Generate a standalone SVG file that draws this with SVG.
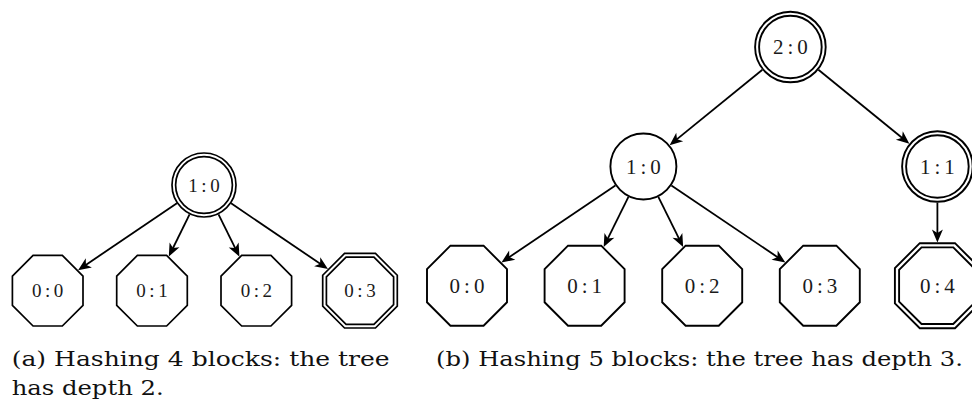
<svg xmlns="http://www.w3.org/2000/svg" xmlns:xlink="http://www.w3.org/1999/xlink" width="972" height="412" viewBox="0 0 972 412">
<style>
.sh{fill:#fff;stroke:#000;stroke-width:1.7}
.shb{fill:#fff;stroke:#000;stroke-width:1.9}
.edge{stroke:#000;stroke-width:1.8;fill:none;marker-end:url(#arr)}
.lbl{font-family:"Liberation Serif","Times New Roman",serif;fill:#1a1a1a;text-anchor:middle}
.la{font-size:19px}
.lb{font-size:21px}
.cap{font-family:"DejaVu Serif","Liberation Serif",serif;font-size:19.5px;fill:#111}
</style>
<defs>
<marker id="arr" viewBox="-16 -7 18 14" markerWidth="18" markerHeight="14" refX="-4" refY="0" orient="auto" markerUnits="userSpaceOnUse">
<path d="M0,0 L-13,-5.5 L-9.5,0 L-13,5.5 Z" fill="#000"/>
</marker>
<polygon id="octA" points="-14.62,-35.3 14.62,-35.3 35.3,-14.62 35.3,14.62 14.62,35.3 -14.62,35.3 -35.3,14.62 -35.3,-14.62"/>
<polygon id="octAo" points="-15.45,-37.3 15.45,-37.3 37.3,-15.45 37.3,15.45 15.45,37.3 -15.45,37.3 -37.3,15.45 -37.3,-15.45"/>
<polygon id="octAi" points="-13.92,-33.6 13.92,-33.6 33.6,-13.92 33.6,13.92 13.92,33.6 -13.92,33.6 -33.6,13.92 -33.6,-13.92"/>
<polygon id="octB" points="-16.57,-40 16.57,-40 40,-16.57 40,16.57 16.57,40 -16.57,40 -40,16.57 -40,-16.57"/>
<polygon id="octBo" points="-17.6,-42.5 17.6,-42.5 42.5,-17.6 42.5,17.6 17.6,42.5 -17.6,42.5 -42.5,17.6 -42.5,-17.6"/>
<polygon id="octBi" points="-15.86,-38.3 15.86,-38.3 38.3,-15.86 38.3,15.86 15.86,38.3 -15.86,38.3 -38.3,15.86 -38.3,-15.86"/>
</defs>

<g id="connectors">
<line class="edge" x1="176.9" y1="203.3" x2="81.38" y2="267.92"/>
<line class="edge" x1="189.57" y1="214.34" x2="170.56" y2="252.99"/>
<line class="edge" x1="218.51" y1="214.31" x2="237.67" y2="253.05"/>
<line class="edge" x1="231.07" y1="203.34" x2="324.65" y2="266.75"/>
<line class="edge" x1="762.39" y1="69.77" x2="672.73" y2="142.66"/>
<line class="edge" x1="818.41" y1="69.77" x2="906.29" y2="141.21"/>
<line class="edge" x1="937.4" y1="202.6" x2="937.4" y2="238.4"/>
<line class="edge" x1="615.39" y1="185.42" x2="504.75" y2="260.19"/>
<line class="edge" x1="628.45" y1="196.82" x2="605.43" y2="243.47"/>
<line class="edge" x1="658.35" y1="196.82" x2="681.37" y2="243.47"/>
<line class="edge" x1="671.41" y1="185.42" x2="782.05" y2="260.19"/>
</g>

<g id="a-1-0">
<circle class="sh" cx="204" cy="185" r="32"/>
<circle class="sh" cx="204" cy="185" r="28.4"/>
<text class="lbl la" x="204" y="191.8">1<tspan dx="3.5">:</tspan><tspan dx="3.5">0</tspan></text>
</g>
<g id="a-0-0">
<use href="#octA" class="sh" x="47.7" y="290.7"/>
<text class="lbl la" x="47.7" y="297.1">0<tspan dx="3.5">:</tspan><tspan dx="3.5">0</tspan></text>
</g>
<g id="a-0-1">
<use href="#octA" class="sh" x="152" y="290.7"/>
<text class="lbl la" x="152" y="297.1">0<tspan dx="3.5">:</tspan><tspan dx="3.5">1</tspan></text>
</g>
<g id="a-0-2">
<use href="#octA" class="sh" x="256.3" y="290.7"/>
<text class="lbl la" x="256.3" y="297.1">0<tspan dx="3.5">:</tspan><tspan dx="3.5">2</tspan></text>
</g>
<g id="a-0-3">
<use href="#octAo" class="sh" x="360" y="290.7"/>
<use href="#octAi" class="sh" x="360" y="290.7"/>
<text class="lbl la" x="360" y="297.1">0<tspan dx="3.5">:</tspan><tspan dx="3.5">3</tspan></text>
</g>

<g id="b-2-0">
<circle class="shb" cx="790.4" cy="47" r="35.3"/>
<circle class="shb" cx="790.4" cy="47" r="31.3"/>
<text class="lbl lb" x="790.4" y="54.1">2<tspan dx="4">:</tspan><tspan dx="4">0</tspan></text>
</g>
<g id="b-1-0">
<circle class="shb" cx="643.4" cy="166.5" r="33"/>
<text class="lbl lb" x="643.4" y="173.6">1<tspan dx="4">:</tspan><tspan dx="4">0</tspan></text>
</g>
<g id="b-1-1">
<circle class="shb" cx="937.4" cy="166.5" r="35.3"/>
<circle class="shb" cx="937.4" cy="166.5" r="31.3"/>
<text class="lbl lb" x="937.4" y="173.6">1<tspan dx="4">:</tspan><tspan dx="4">1</tspan></text>
</g>
<g id="b-0-0">
<use href="#octB" class="shb" x="467" y="285.7"/>
<text class="lbl lb" x="467" y="292.8">0<tspan dx="4">:</tspan><tspan dx="4">0</tspan></text>
</g>
<g id="b-0-1">
<use href="#octB" class="shb" x="584.6" y="285.7"/>
<text class="lbl lb" x="584.6" y="292.8">0<tspan dx="4">:</tspan><tspan dx="4">1</tspan></text>
</g>
<g id="b-0-2">
<use href="#octB" class="shb" x="702.2" y="285.7"/>
<text class="lbl lb" x="702.2" y="292.8">0<tspan dx="4">:</tspan><tspan dx="4">2</tspan></text>
</g>
<g id="b-0-3">
<use href="#octB" class="shb" x="819.8" y="285.7"/>
<text class="lbl lb" x="819.8" y="292.8">0<tspan dx="4">:</tspan><tspan dx="4">3</tspan></text>
</g>
<g id="b-0-4">
<use href="#octBo" class="shb" x="937.4" y="285.7"/>
<use href="#octBi" class="shb" x="937.4" y="285.7"/>
<text class="lbl lb" x="937.4" y="292.8">0<tspan dx="4">:</tspan><tspan dx="4">4</tspan></text>
</g>

<g id="captions">
<text class="cap" x="11.7" y="366" textLength="378" lengthAdjust="spacingAndGlyphs">(a) Hashing 4 blocks:  the tree</text>
<text class="cap" x="11.7" y="395" textLength="152" lengthAdjust="spacingAndGlyphs">has depth 2.</text>
<text class="cap" x="436" y="366" textLength="527" lengthAdjust="spacingAndGlyphs">(b) Hashing 5 blocks: the tree has depth 3.</text>
</g>
</svg>
